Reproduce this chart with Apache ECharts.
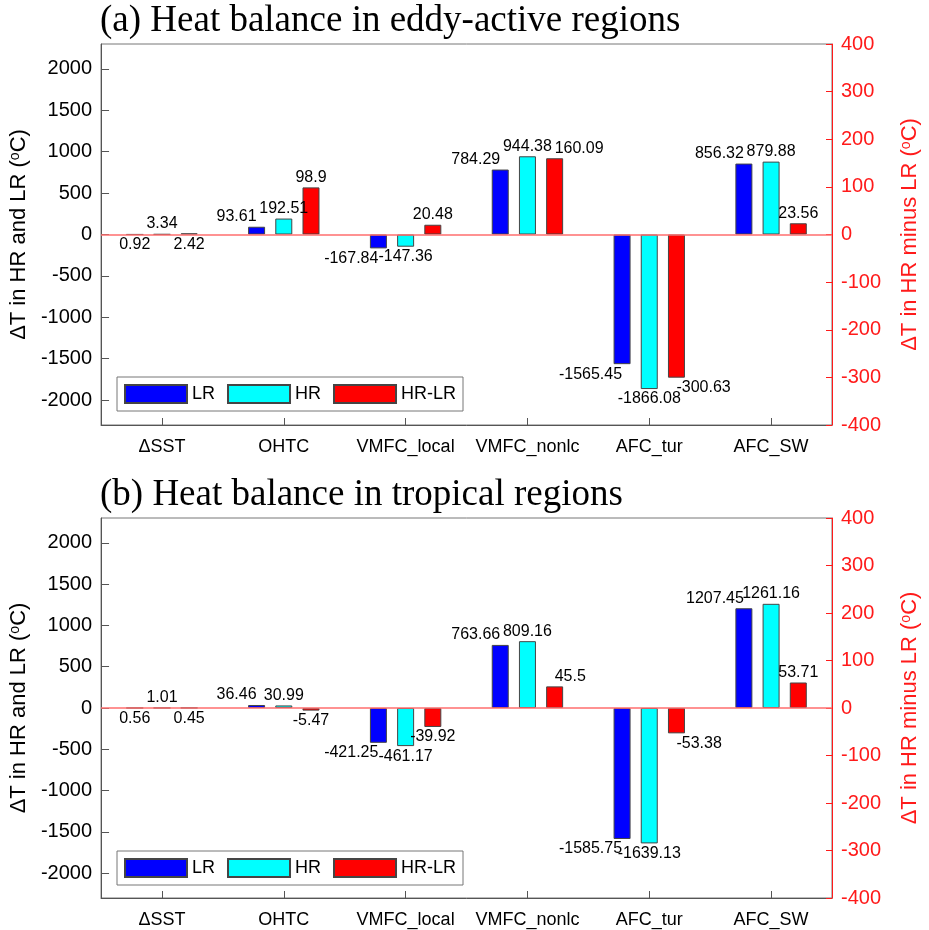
<!DOCTYPE html>
<html>
<head>
<meta charset="utf-8">
<script src="https://cdn.jsdelivr.net/npm/echarts@6/dist/echarts.min.js"></script>
<style>html,body{margin:0;padding:0;background:#fff;}#chart{width:929px;height:930px;}</style>
</head>
<body>
<div id="chart"></div>
<script>
// ---- data ----
const categories = ['\u0394SST', 'OHTC', 'VMFC_local', 'VMFC_nonlc', 'AFC_tur', 'AFC_SW'];
const seriesNames = ['LR', 'HR', 'HR-LR'];
const titleA = '(a) Heat balance in eddy-active regions';
const titleB = '(b) Heat balance in tropical regions';
const lrA   = [0.92, 93.61, -167.84, 784.29, -1565.45, 856.32];
const hrA   = [3.34, 192.51, -147.36, 944.38, -1866.08, 879.88];
const diffA = [2.42, 98.9, 20.48, 160.09, -300.63, 23.56];
const lrB   = [0.56, 36.46, -421.25, 763.66, -1585.75, 1207.45];
const hrB   = [1.01, 30.99, -461.17, 809.16, -1639.13, 1261.16];
const diffB = [0.45, -5.47, -39.92, 45.5, -53.38, 53.71];
const leftTicks  = [-2000, -1500, -1000, -500, 0, 500, 1000, 1500, 2000];

// ---- label styles (alignment / placement only) ----
const alignLR   = ['center', 'right', 'right', 'right', 'right', 'right'];
const alignHR   = ['center', 'center', 'center', 'center', 'center', 'center'];
const alignDiff = ['center', 'center', 'center', 'left', 'left', 'center'];
const posLR   = ['bottom', 'outside', 'outside', 'outside', 'outside', 'outside'];
const posHR   = ['top', 'outside', 'outside', 'outside', 'outside', 'outside'];
const posDiff = ['bottom', 'outside', 'outside', 'outside', 'outside', 'outside'];

const colors = ['#0000ff', '#00ffff', '#ff0000'];
const FONT = 'Liberation Sans, Arial, sans-serif';
const RED = '#ff1a1a';

const grids = [
  {left: 101, right: 93, top: 44, height: 381},
  {left: 101, right: 93, top: 518, height: 380}
];

function items(vals, aligns, poss) {
  return vals.map((v, i) => ({
    value: v,
    label: {align: aligns[i], position: poss[i]}
  }));
}

function barSeries(name, vals, aligns, poss, gi, yi, color, extra) {
  return Object.assign({
    name: name,
    type: 'bar',
    xAxisIndex: gi,
    yAxisIndex: yi,
    barWidth: 17,
    barGap: '60%',
    itemStyle: {color: color, borderColor: '#454545', borderWidth: 1},
    label: {
      show: true, distance: 2, color: '#000', fontSize: 16, fontFamily: FONT,
      formatter: p => String(p.value)
    },
    data: items(vals, aligns, poss)
  }, extra || {});
}

const nameRich = {sup: {fontSize: 14, fontFamily: FONT, verticalAlign: 'top', lineHeight: 14}};

const xAxes = [0, 1].map(gi => ({
  type: 'category', gridIndex: gi, data: categories, boundaryGap: true,
  axisLine: {show: true, onZero: false, lineStyle: {color: '#555', width: 1}},
  axisTick: {show: true, inside: true, length: 7, alignWithLabel: true, interval: 0, lineStyle: {color: '#555'}},
  axisLabel: {color: '#000', fontSize: 18, fontFamily: FONT, margin: 13, interval: 0}
}));

const yAxes = [];
[0, 1].forEach(gi => {
  yAxes.push({
    type: 'value', gridIndex: gi, position: 'left', min: -2300, max: 2300,
    name: '\u0394T in HR and LR ({sup|o}C)', nameLocation: 'middle', nameRotate: 90, nameGap: 67,
    nameTextStyle: {color: '#000', fontSize: 22, fontFamily: FONT, rich: nameRich},
    axisLine: {show: true, lineStyle: {color: '#555', width: 1}},
    axisTick: {show: true, inside: true, length: 8, customValues: leftTicks, lineStyle: {color: '#555'}},
    axisLabel: {color: '#000', fontSize: 20, fontFamily: FONT, margin: 9, customValues: leftTicks,
      formatter: v => String(v)},
    splitLine: {show: false}
  });
  yAxes.push({
    type: 'value', gridIndex: gi, position: 'right', min: -400, max: 400, interval: 100,
    alignTicks: false,
    name: '\u0394T in HR minus LR ({sup|o}C)', nameLocation: 'middle', nameRotate: 90, nameGap: 67,
    nameTextStyle: {color: RED, fontSize: 22, fontFamily: FONT,
      rich: {sup: {fontSize: 14, fontFamily: FONT, verticalAlign: 'top', lineHeight: 14, color: RED}}},
    axisLine: {show: true, lineStyle: {color: RED, width: 1}},
    axisTick: {show: true, inside: true, length: 6, lineStyle: {color: RED}},
    axisLabel: {color: RED, fontSize: 20, fontFamily: FONT, margin: 9, formatter: v => String(v)},
    splitLine: {show: false}
  });
});

const zeroLine = {
  silent: true, symbol: ['none', 'none'],
  label: {show: false},
  lineStyle: {color: '#ff6e6e', width: 1.5, type: 'solid'},
  data: [{yAxis: 0}]
};

const panels = [
  {lr: lrA, hr: hrA, diff: diffA},
  {lr: lrB, hr: hrB, diff: diffB}
];
const series = [];
panels.forEach((p, gi) => {
  series.push(barSeries(seriesNames[0], p.lr, alignLR, posLR, gi, gi * 2, colors[0]));
  series.push(barSeries(seriesNames[1], p.hr, alignHR, posHR, gi, gi * 2, colors[1]));
  series.push(barSeries(seriesNames[2], p.diff, alignDiff, posDiff, gi, gi * 2 + 1, colors[2], {markLine: zeroLine}));
});

const legendBase = {
  data: seriesNames, orient: 'horizontal', left: 117,
  padding: [7, 7], itemWidth: 62, itemHeight: 18, itemGap: 12,
  icon: 'rect', borderColor: '#777', borderWidth: 1, backgroundColor: '#fff',
  textStyle: {color: '#000', fontSize: 18, fontFamily: FONT},
  selectedMode: false
};

const titleStyle = {fontFamily: 'Liberation Serif, Times New Roman, serif', fontSize: 37, fontWeight: 'normal', color: '#000'};

const option = {
  animation: false,
  backgroundColor: '#fff',
  title: [
    {text: titleA, left: 95, top: -2, textStyle: titleStyle},
    {text: titleB, left: 95, top: 472, textStyle: titleStyle}
  ],
  grid: grids.map(g => Object.assign({show: true, borderColor: '#777', borderWidth: 1, backgroundColor: 'transparent'}, g)),
  legend: [
    Object.assign({}, legendBase, {top: 377}),
    Object.assign({}, legendBase, {top: 851})
  ],
  xAxis: xAxes,
  yAxis: yAxes,
  series: series
};

const chart = echarts.init(document.getElementById('chart'), null, {renderer: 'canvas'});
chart.setOption(option);
</script>
</body>
</html>
